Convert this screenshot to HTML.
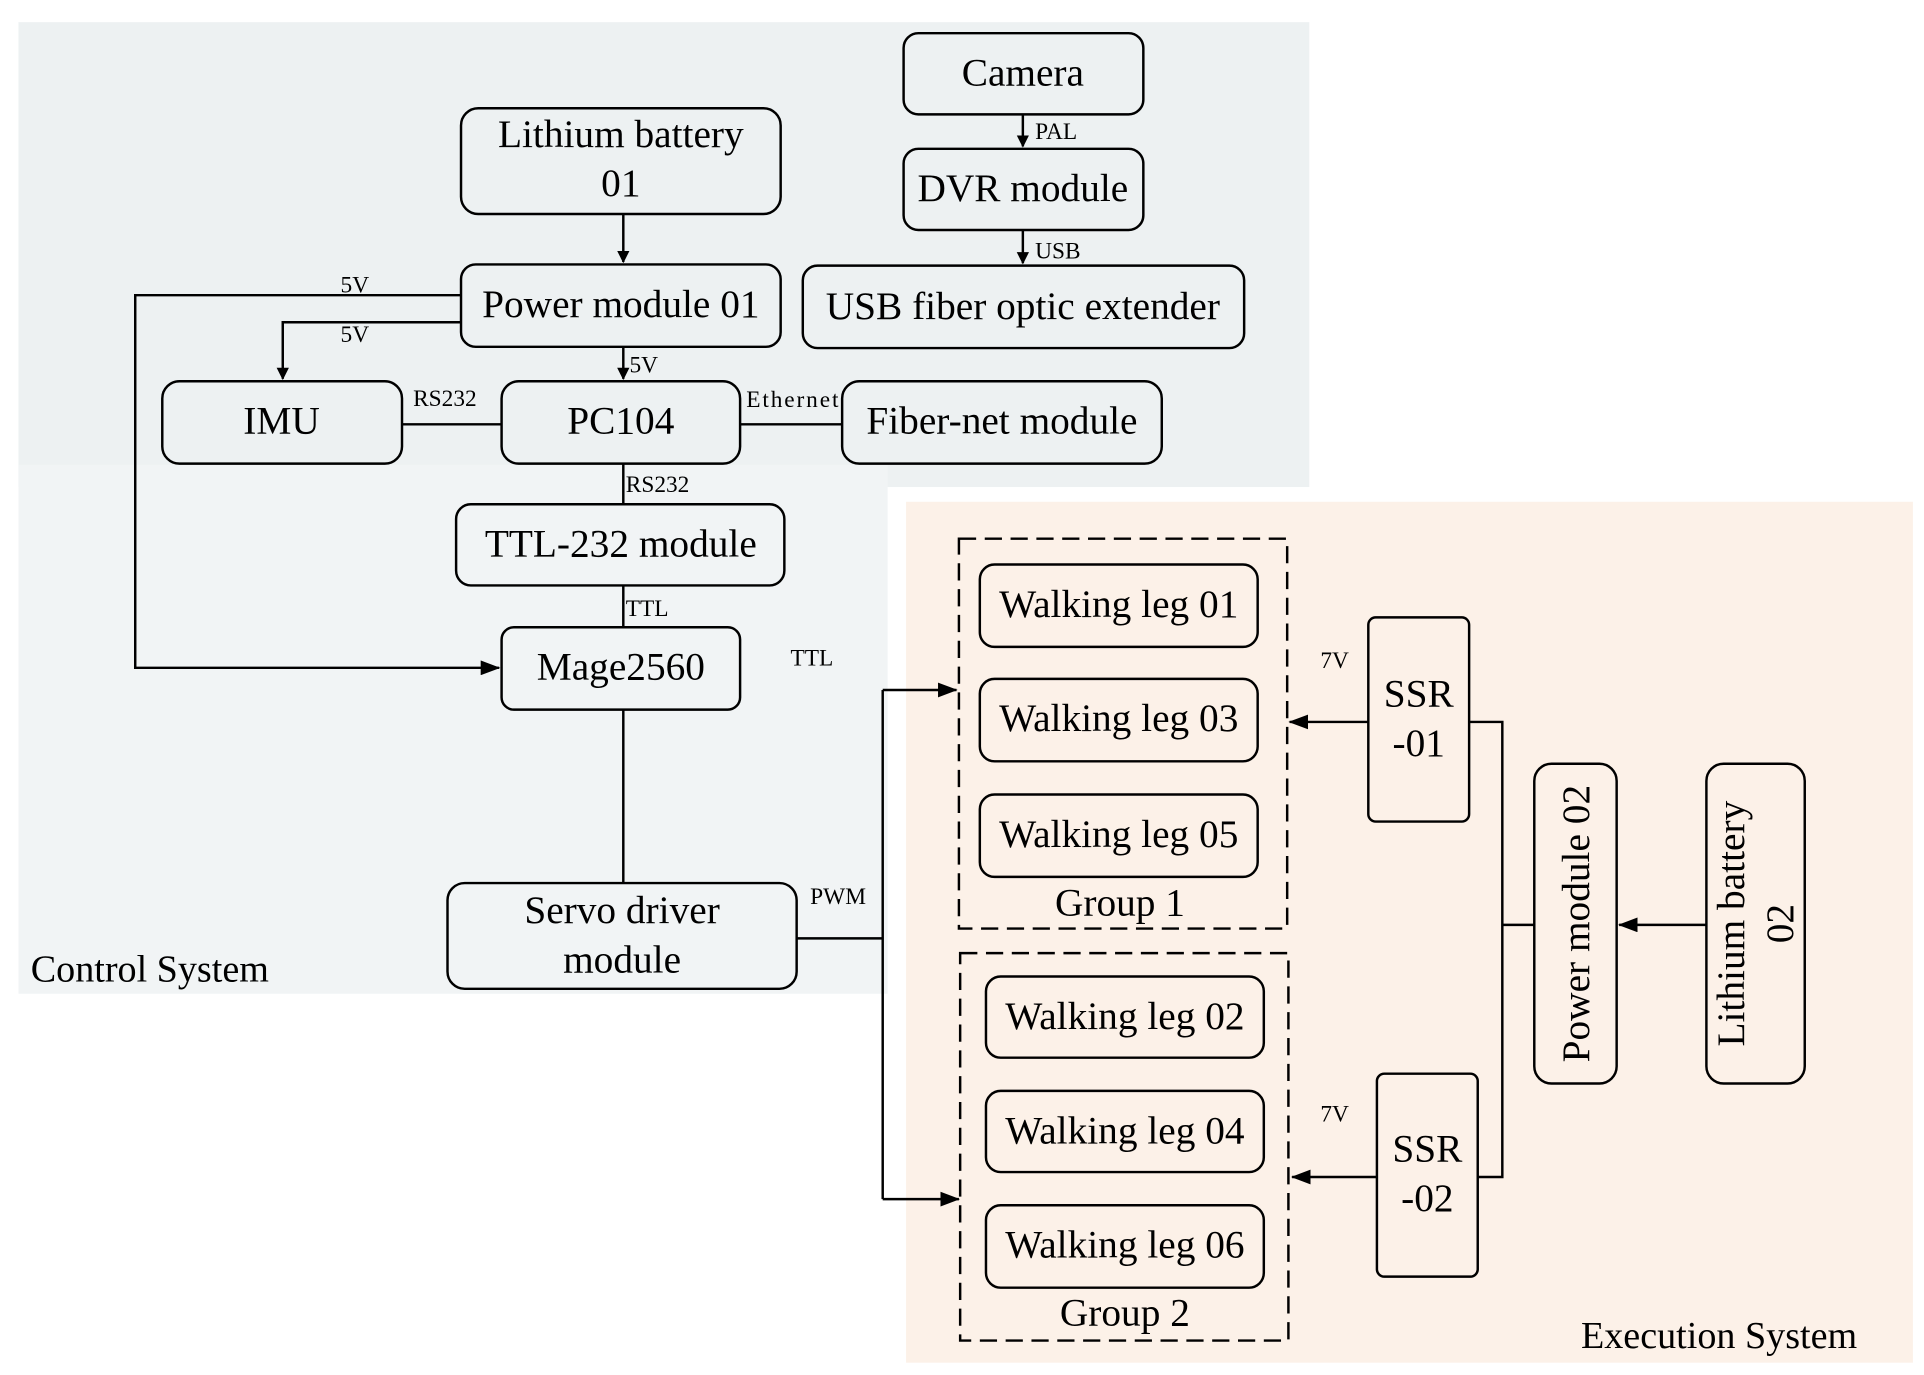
<!DOCTYPE html>
<html><head><meta charset="utf-8"><style>
html,body{margin:0;padding:0;background:#fff}
svg{display:block}
text{font-family:"Liberation Serif",serif;fill:#000}
.b{font-size:32px;text-anchor:middle;dominant-baseline:central}
.s{font-size:19px}
</style></head><body>
<svg width="1924" height="1375" viewBox="0 0 1565 1118" preserveAspectRatio="none" xmlns="http://www.w3.org/2000/svg">
<defs><marker id="a" markerWidth="10" markerHeight="10" refX="9" refY="5" orient="auto" markerUnits="userSpaceOnUse"><path d="M0,0 L10,5 L0,10 z" fill="#000"/></marker>
<marker id="a2" markerWidth="16" markerHeight="12" refX="15" refY="6" orient="auto" markerUnits="userSpaceOnUse"><path d="M0,0 L16,6 L0,12 z" fill="#000"/></marker></defs>
<rect x="0" y="0" width="1565" height="1118" fill="#fff"/>
<rect x="15" y="18" width="1050" height="378" fill="#edf1f2"/>
<rect x="15" y="378" width="707" height="430" fill="#f1f4f5"/>
<rect x="737" y="408" width="819" height="700" fill="#fcf1e8"/>
<g fill="none" stroke="#000" stroke-width="2">
<rect x="735" y="27" width="195" height="66" rx="12"/>
<rect x="735" y="121" width="195" height="66" rx="12"/>
<rect x="653" y="216" width="359" height="67" rx="12"/>
<rect x="375" y="88" width="260" height="86" rx="14"/>
<rect x="375" y="215" width="260" height="67" rx="12"/>
<rect x="132" y="310" width="195" height="67" rx="14"/>
<rect x="408" y="310" width="194" height="67" rx="14"/>
<rect x="685" y="310" width="260" height="67" rx="14"/>
<rect x="371" y="410" width="267" height="66" rx="12"/>
<rect x="408" y="510" width="194" height="67" rx="10"/>
<rect x="364" y="718" width="284" height="86" rx="14"/>
<rect x="797" y="459" width="226" height="67" rx="12"/>
<rect x="797" y="552" width="226" height="67" rx="12"/>
<rect x="797" y="646" width="226" height="67" rx="12"/>
<rect x="802" y="794" width="226" height="66" rx="12"/>
<rect x="802" y="887" width="226" height="66" rx="12"/>
<rect x="802" y="980" width="226" height="67" rx="12"/>
<rect x="1113" y="502" width="82" height="166" rx="6"/>
<rect x="1120" y="873" width="82" height="165" rx="6"/>
<rect x="1248" y="621" width="67" height="260" rx="14"/>
<rect x="1388" y="621" width="80" height="260" rx="14"/>
<rect x="780" y="438" width="267" height="317" stroke-dasharray="14,7"/>
<rect x="781" y="775" width="267" height="315" stroke-dasharray="14,7"/>
<path d="M507,174 V213" marker-end="url(#a)"/>
<path d="M832,93 V119" marker-end="url(#a)"/>
<path d="M832,187 V214" marker-end="url(#a)"/>
<path d="M507,282 V308" marker-end="url(#a)"/>
<path d="M375,240 H110 V543 H406" marker-end="url(#a2)"/>
<path d="M375,262 H230 V308" marker-end="url(#a)"/>
<path d="M327,345 H408 M602,345 H685 M507,377 V410 M507,476 V510 M507,577 V718"/>
<path d="M648,763 H718"/>
<path d="M718,561 V975"/>
<path d="M718,561 H778" marker-end="url(#a2)"/>
<path d="M718,975 H780" marker-end="url(#a2)"/>
<path d="M1113,587 H1049" marker-end="url(#a2)"/>
<path d="M1120,957 H1051" marker-end="url(#a2)"/>
<path d="M1195,587 H1222 V957 H1202 M1222,752 H1248"/>
<path d="M1388,752 H1317" marker-end="url(#a2)"/>
</g>
<text class="b" x="832" y="59">Camera</text>
<text class="b" x="832" y="153">DVR module</text>
<text class="b" x="832" y="249">USB fiber optic extender</text>
<text class="b" x="505" y="109">Lithium battery</text>
<text class="b" x="505" y="149">01</text>
<text class="b" x="505" y="247">Power module 01</text>
<text class="b" x="229" y="342">IMU</text>
<text class="b" x="505" y="342">PC104</text>
<text class="b" x="815" y="342">Fiber-net module</text>
<text class="b" x="505" y="442">TTL-232 module</text>
<text class="b" x="505" y="542">Mage2560</text>
<text class="b" x="506" y="740">Servo driver</text>
<text class="b" x="506" y="780">module</text>
<text class="b" x="910" y="491">Walking leg 01</text>
<text class="b" x="910" y="584">Walking leg 03</text>
<text class="b" x="910" y="678">Walking leg 05</text>
<text class="b" x="915" y="826">Walking leg 02</text>
<text class="b" x="915" y="919">Walking leg 04</text>
<text class="b" x="915" y="1012">Walking leg 06</text>
<text class="b" x="911" y="734">Group 1</text>
<text class="b" x="915" y="1067">Group 2</text>
<text class="b" x="1154" y="564">SSR</text>
<text class="b" x="1154" y="604">-01</text>
<text class="b" x="1161" y="934">SSR</text>
<text class="b" x="1161" y="974">-02</text>
<text class="b" transform="translate(1282,751) rotate(-90)">Power module 02</text>
<text class="b" transform="translate(1408,751) rotate(-90)">Lithium battery</text>
<text class="b" transform="translate(1448,751) rotate(-90)">02</text>
<text class="s" x="842" y="113">PAL</text>
<text class="s" x="842" y="210">USB</text>
<text class="s" x="277" y="238">5V</text>
<text class="s" x="277" y="278">5V</text>
<text class="s" x="512" y="303">5V</text>
<text class="s" x="336" y="330">RS232</text>
<text class="s" x="607" y="331" textLength="75">Ethernet</text>
<text class="s" x="509" y="400">RS232</text>
<text class="s" x="509" y="501">TTL</text>
<text class="s" x="643" y="541">TTL</text>
<text class="s" x="659" y="735">PWM</text>
<text class="s" x="1074" y="543">7V</text>
<text class="s" x="1074" y="912">7V</text>
<text x="25" y="798" style="font-size:31px">Control System</text>
<text x="1286" y="1096" style="font-size:31px">Execution System</text>
</svg>
</body></html>
